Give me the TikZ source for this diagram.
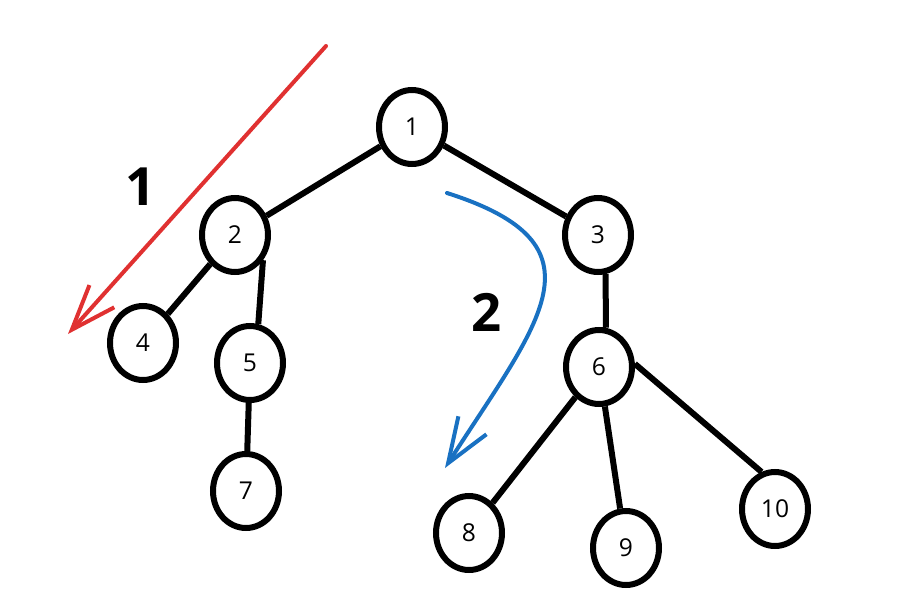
\documentclass[tikz,border=0pt]{standalone}
\usepackage{fontspec}
\setmainfont{Open Sans}
\usetikzlibrary{shapes.geometric,arrows.meta}
\definecolor{exred}{HTML}{E03131}
\definecolor{exblue}{HTML}{1971C2}
\begin{document}
\begin{tikzpicture}[x=0.03cm,y=-0.03cm,
  nd/.style={draw=black,ellipse,line width=0.18cm,minimum width=1.98cm,minimum height=2.22cm,inner sep=0pt,font=\fontsize{21}{21}\selectfont},
  ed/.style={line width=0.18cm},
  ar/.style={line width=0.12cm,line cap=round,-{Straight Barb[length=1.35cm,width=1cm,line width=0.12cm]}},
  lb/.style={font=\fontsize{45}{45}\selectfont\bfseries}]
\useasboundingbox (0,0) rectangle (911,610);
\node[nd] (v1) at (412,127) {1};
\node[nd] (v2) at (235,235) {2};
\node[nd] (v3) at (598,235) {3};
\node[nd] (v4) at (143,343) {4};
\node[nd] (v5) at (250,363) {5};
\node[nd] (v6) at (599,367) {6};
\node[nd] (v7) at (246,491) {7};
\node[nd] (v8) at (469,533) {8};
\node[nd] (v9) at (626,548) {9};
\node[nd] (v10) at (775,509) {10};
\draw[ed] (v4) -- (v2) -- (v1) -- (v3);
\draw[ed] (v2.-42) -- (v5.78);
\draw[ed] (v5) -- (v7);
\draw[ed] (v3.-79) -- (v6.80);
\draw[ed] (v6) -- (v8);
\draw[ed] (v6) -- (v9);
\draw[ed] (v6.5) -- (v10.110);
% traversal orders
\coordinate (r0) at (326,46);
\coordinate (r1) at (68,334);
\coordinate (b0) at (447,193);
\coordinate (b1) at (445,468);
\draw[ar,exred] (r0) -- (r1);
\draw[ar,exblue] (b0) .. controls (610,245) and (540,320) .. (b1);
\node[lb] (l1) at (141,187) {1};
\node[lb] (l2) at (487,312) {2};
\end{tikzpicture}
\end{document}
